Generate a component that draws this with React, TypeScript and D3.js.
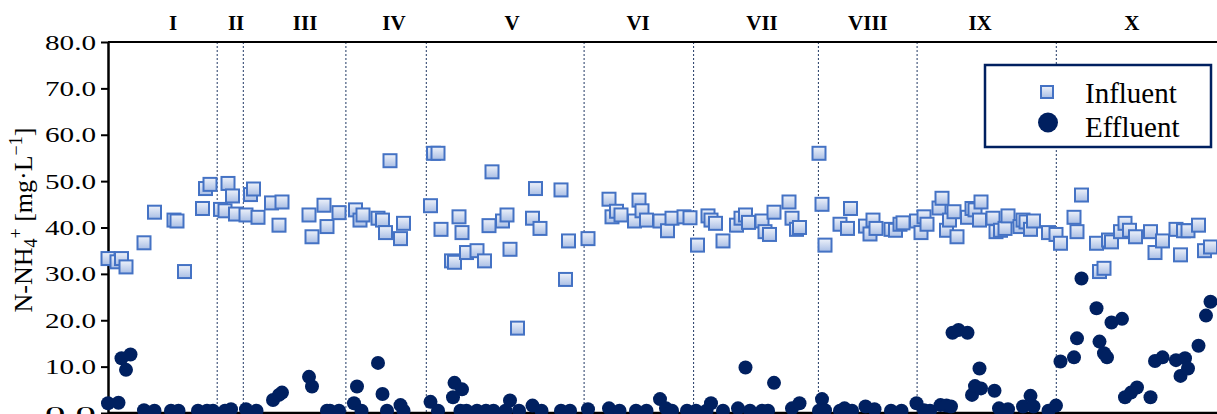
import * as d3 from "d3";
import { useEffect, useRef } from "react";

// operating time [d] and N-NH4+ [mg/L]
const influentDays = [
  0, 3, 4.5, 6, 12, 15.5, 22, 23, 25.5, 31.5, 32.5, 34, 37.5, 39, 40, 41.5, 42.5, 46, 47.5, 48.5,
  50, 54.5, 57, 58, 67, 68, 72, 73, 77, 82.5, 84, 85, 90, 91.5, 92.5, 94, 97.5, 98.5, 107.5, 108.5,
  110, 111, 114.5, 115.5, 117, 118, 119.5, 123, 125.5, 127, 128, 131.5, 133, 134, 136.5, 141.5, 142.5, 144, 151, 152.5,
  153.5, 160, 167, 168, 169.5, 171, 175.5, 177, 178, 179.5, 184, 186.5, 188, 192, 194, 196.5, 200, 201, 202.5, 205,
  209.5, 211, 212.5, 213.5, 218, 219, 220.5, 222, 227, 228, 229.5, 230.5, 237, 238, 239, 244, 246.5, 247.5, 252.5, 254,
  255, 256, 261, 262.5, 264, 265, 269.5, 271, 272, 273, 277, 278, 279.5, 280.5, 282, 283, 286.5, 288, 289, 290.5,
  291, 295, 296, 297.5, 299, 300, 304, 305, 306, 307.5, 308.5, 313.5, 316, 317.5, 322, 323, 324.5, 329.5, 330.5, 332,
  333.5, 334.5, 337.5, 339, 340.5, 342.5, 347.5, 349, 351.5, 356, 357.5, 358.5, 360, 363.5, 365.5, 367.5,
];
const influentValues = [
  33.3, 32.6, 33.3, 31.5, 36.7, 43.3, 41.6, 41.4, 30.5, 44.1, 48.4, 49.3, 43.9, 43.6, 49.5, 46.8, 42.9, 42.7, 47.1, 48.3,
  42.2, 45.3, 40.5, 45.5, 42.7, 38.0, 44.8, 40.2, 43.2, 43.8, 41.6, 42.7, 42.0, 41.6, 38.9, 54.4, 37.6, 40.9, 44.7, 56.0,
  56.0, 39.6, 32.8, 32.5, 42.3, 38.9, 34.6, 35.0, 32.8, 40.4, 52.0, 41.4, 42.7, 35.3, 18.3, 42.0, 48.4, 39.8, 48.1, 28.8,
  37.1, 37.6, 46.1, 42.3, 43.5, 42.7, 41.4, 45.9, 43.6, 41.6, 41.4, 39.3, 42.0, 42.3, 42.1, 36.2, 42.5, 41.6, 40.9, 37.1,
  40.5, 42.0, 42.7, 41.1, 41.4, 39.1, 38.5, 43.3, 45.5, 42.0, 39.6, 40.0, 56.0, 45.0, 36.2, 40.7, 39.8, 44.1, 40.3, 38.6,
  41.6, 39.8, 39.6, 39.4, 40.7, 41.0, 41.4, 38.9, 42.3, 40.7, 44.2, 46.3, 39.4, 41.6, 43.4, 38.0, 42.2, 44.1, 43.8, 41.6,
  45.5, 42.0, 39.1, 39.4, 39.8, 42.5, 40.2, 41.6, 41.2, 39.6, 41.4, 38.9, 38.5, 36.6, 42.2, 39.1, 47.0, 36.6, 30.5, 31.2,
  37.3, 36.9, 39.1, 40.9, 39.4, 38.0, 39.1, 34.6, 37.1, 39.6, 34.1, 39.3, 39.3, 40.5, 35.0, 35.8,
];

const effluentDays = [
  0, 3.5, 4.5, 6, 7.5, 12, 15.5, 21, 23.5, 30, 33, 35, 39, 41, 46, 49.5, 55, 57, 58, 67,
  68, 73, 74, 77, 82, 83, 84.5, 90, 91.5, 93, 97.5, 98.5, 107.5, 110, 115, 115.5, 117.5, 118, 119.5, 123,
  126, 128.5, 132.5, 134, 137, 141.5, 144.5, 151, 154, 160, 167, 170.5, 176, 179.5, 184, 186, 188, 193, 196, 199.5,
  201, 205, 210, 212.5, 214, 218, 220, 222, 228, 230.5, 237, 238, 239, 244, 245.5, 248, 252.5, 255.5, 261, 264.5,
  269.5, 272, 274, 277.5, 279.5, 281, 281.5, 283.5, 286.5, 288, 289, 290.5, 291, 295.5, 297, 300, 305, 307.5, 308.5, 313.5,
  316, 317.5, 322, 323, 324.5, 329.5, 330.5, 332, 333, 334.5, 338, 339, 341, 343, 347.5, 349, 351.5, 356, 357.5, 359,
  360, 363.5, 366, 367.5,
];
const effluentValues = [
  2.1, 2.2, 11.8, 9.3, 12.6, 0.6, 0.5, 0.5, 0.5, 0.5, 0.5, 0.5, 0.5, 0.8, 0.8, 0.5, 2.8, 3.9, 4.4, 7.8,
  5.7, 0.5, 0.5, 0.5, 2.1, 5.7, 0.5, 10.8, 4.1, 0.5, 1.7, 0.5, 2.4, 0.5, 3.4, 6.5, 0.5, 5.1, 0.5, 0.5,
  0.5, 0.5, 0.5, 2.7, 0.5, 1.6, 0.5, 0.5, 0.5, 0.8, 1.0, 0.5, 0.5, 0.5, 3.0, 1.0, 0.5, 0.5, 0.5, 0.5,
  2.1, 0.5, 1.0, 9.8, 0.5, 0.5, 0.5, 6.5, 1.0, 2.1, 0.5, 3.0, 0.6, 0.5, 1.0, 0.5, 1.4, 0.8, 0.5, 0.5,
  2.1, 0.6, 0.5, 1.7, 1.6, 1.4, 17.3, 17.9, 17.3, 3.9, 5.8, 9.6, 5.3, 4.8, 1.0, 0.8, 1.4, 3.7, 1.4, 0.5,
  1.6, 11.1, 12.0, 16.1, 29.0, 22.6, 15.4, 12.9, 12.0, 19.5, 20.3, 3.4, 4.4, 5.5, 3.4, 11.2, 12.0, 11.4, 8.0, 11.8,
  9.6, 14.5, 21.0, 24.0,
];

const phaseLabels = ["I", "II", "III", "IV", "V", "VI", "VII", "VIII", "IX", "X"];
const phaseLabelDays = [21.7, 42.7, 65.7, 95.3, 134.7, 176.7, 218, 253.3, 290.7, 341.3];
const phaseBoundaries = [36.4, 45.1, 79.3, 106.1, 158.7, 195.2, 236.8, 269.7, 316.1];
const yTicks = [0, 10, 20, 30, 40, 50, 60, 70, 80];

const W = 1217;
const H = 414;
const FONT = "'Liberation Serif', 'Times New Roman', serif";

const App = () => {
  const ref = useRef<SVGSVGElement>(null);

  useEffect(() => {
    const svg = d3.select(ref.current);
    svg.selectAll("*").remove();

    const left = 108,
      top = 42,
      bottom = 413;

    const x = d3.scaleLinear().domain([0, 370]).range([left, left + 1110]);
    const y = d3.scaleLinear().domain([0, 80]).range([bottom, top]);

    const grad = svg
      .append("defs")
      .append("linearGradient")
      .attr("id", "inflGrad")
      .attr("x1", 0)
      .attr("y1", 0)
      .attr("x2", 0)
      .attr("y2", 1);
    grad.append("stop").attr("offset", "0%").attr("stop-color", "#eef2fa");
    grad.append("stop").attr("offset", "100%").attr("stop-color", "#a9bee5");

    // phase separators
    svg
      .selectAll("line.phase")
      .data(phaseBoundaries)
      .join("line")
      .attr("x1", (d) => x(d))
      .attr("x2", (d) => x(d))
      .attr("y1", top)
      .attr("y2", bottom)
      .attr("stroke", "#203864")
      .attr("stroke-width", 1)
      .attr("stroke-dasharray", "2,2");

    svg
      .selectAll("text.phase")
      .data(phaseLabels)
      .join("text")
      .attr("x", (_, i) => x(phaseLabelDays[i]))
      .attr("y", 30)
      .attr("text-anchor", "middle")
      .attr("font-family", FONT)
      .attr("font-weight", "bold")
      .attr("font-size", 21)
      .text((d) => d);

    // y axis
    const yAxis = svg
      .append("g")
      .attr("transform", `translate(${left},0)`)
      .call(
        d3
          .axisLeft(y)
          .tickValues(yTicks)
          .tickFormat(d3.format(".1f"))
          .tickSize(7)
          .tickSizeOuter(0)
          .tickPadding(5)
      );
    yAxis.select(".domain").attr("stroke", "#000").attr("stroke-width", 2.5);
    yAxis.selectAll(".tick line").attr("stroke", "#000").attr("stroke-width", 2);
    yAxis
      .selectAll(".tick text")
      .attr("font-family", FONT)
      .attr("font-size", 22)
      .attr("fill", "#000")
      .attr("textLength", 51)
      .attr("lengthAdjust", "spacingAndGlyphs");

    // top and bottom frame lines
    svg
      .append("line")
      .attr("x1", left)
      .attr("x2", W)
      .attr("y1", top)
      .attr("y2", top)
      .attr("stroke", "#000")
      .attr("stroke-width", 2);
    svg
      .append("line")
      .attr("x1", left)
      .attr("x2", W)
      .attr("y1", bottom)
      .attr("y2", bottom)
      .attr("stroke", "#000")
      .attr("stroke-width", 2.5);

    // axis title
    const title = svg
      .append("text")
      .attr("transform", "translate(32,220) rotate(-90)")
      .attr("text-anchor", "middle")
      .attr("font-family", FONT)
      .attr("font-size", 26);
    title.append("tspan").text("N-NH");
    title.append("tspan").attr("font-size", 18).attr("dy", 5).text("4");
    title.append("tspan").attr("font-size", 18).attr("dy", -15).text("+");
    title.append("tspan").attr("dy", 10).text(" [mg·L");
    title.append("tspan").attr("font-size", 18).attr("dy", -10).text("−1");
    title.append("tspan").attr("dy", 10).text("]");

    // influent squares
    svg
      .selectAll("rect.infl")
      .data(influentDays)
      .join("rect")
      .attr("x", (d) => x(d) - 6.5)
      .attr("y", (_, i) => y(influentValues[i]) - 6.5)
      .attr("width", 13)
      .attr("height", 13)
      .attr("fill", "url(#inflGrad)")
      .attr("stroke", "#4472c4")
      .attr("stroke-width", 2);

    // effluent circles
    svg
      .selectAll("circle.eff")
      .data(effluentDays)
      .join("circle")
      .attr("cx", (d) => x(d))
      .attr("cy", (_, i) => y(effluentValues[i]))
      .attr("r", 7)
      .attr("fill", "#002060");

    // legend
    const lg = svg.append("g");
    lg.append("rect")
      .attr("x", 985)
      .attr("y", 65)
      .attr("width", 226)
      .attr("height", 82)
      .attr("fill", "#fff")
      .attr("stroke", "#002060")
      .attr("stroke-width", 2.5);
    lg.append("rect")
      .attr("x", 1041)
      .attr("y", 86)
      .attr("width", 12)
      .attr("height", 12)
      .attr("fill", "url(#inflGrad)")
      .attr("stroke", "#4472c4")
      .attr("stroke-width", 2);
    lg.append("circle").attr("cx", 1048).attr("cy", 122.5).attr("r", 10).attr("fill", "#002060");
    lg.append("text")
      .attr("x", 1085)
      .attr("y", 103)
      .attr("font-family", FONT)
      .attr("font-size", 29)
      .text("Influent");
    lg.append("text")
      .attr("x", 1085)
      .attr("y", 137)
      .attr("font-family", FONT)
      .attr("font-size", 29)
      .text("Effluent");
  }, []);

  return (
    <svg
      ref={ref}
      width={W}
      height={H}
      style={{ position: "absolute", left: 0, top: 0, background: "#fff" }}
    />
  );
};

export default App;
